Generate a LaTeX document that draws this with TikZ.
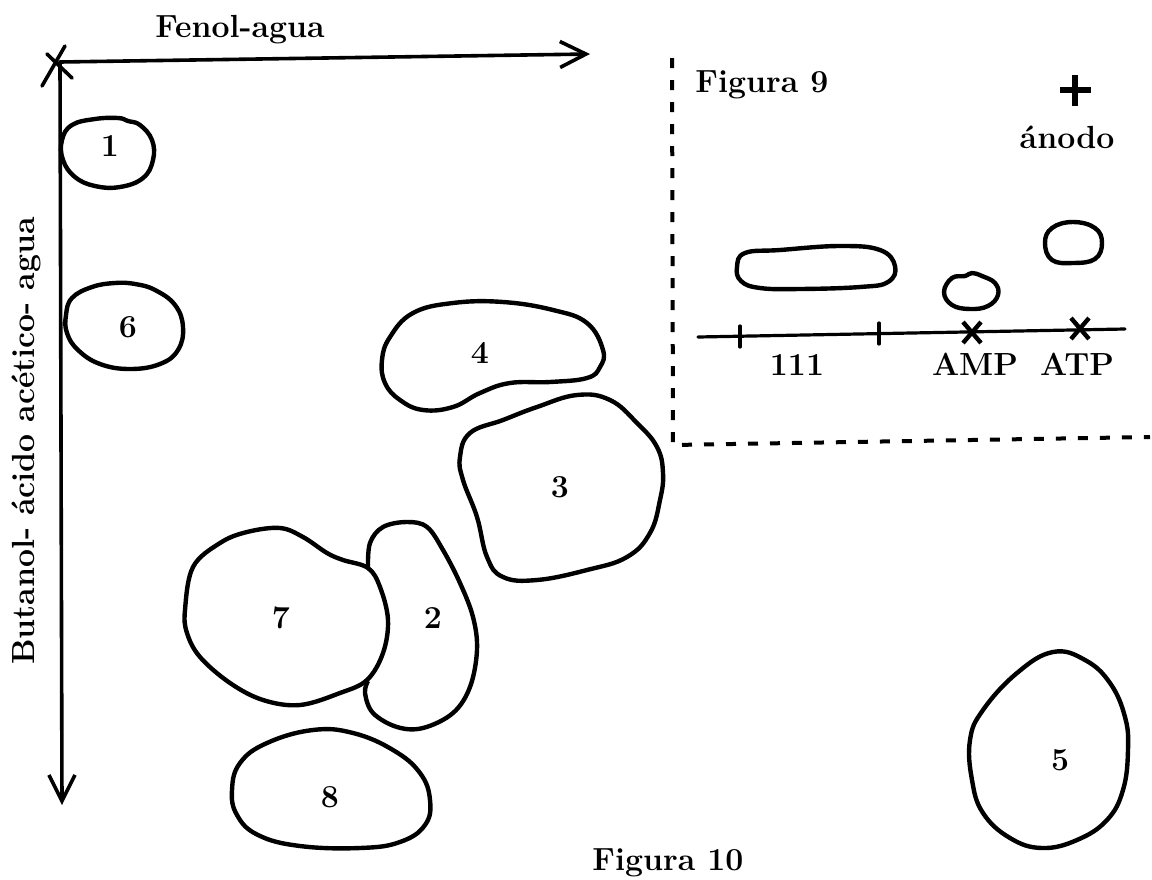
\documentclass[tikz,border=0pt]{standalone}
\usetikzlibrary{arrows.meta}
\begin{document}
\begin{tikzpicture}[x=0.5pt,y=-0.5pt,
  lbl/.style={font=\fontsize{16}{19}\selectfont\bfseries, inner sep=0pt},
  blob/.style={line width=2.2pt, line join=round},
  axis/.style={line width=1.8pt, line cap=round},
  inl/.style={line width=1.6pt, line cap=round},
  dash box/.style={line width=2pt, dash pattern=on 5pt off 6pt},
  barb/.style={-{Straight Barb[length=13pt,width=13pt,line width=1.8pt]}}]
\useasboundingbox (0,0) rectangle (1152,879);

% axes
\coordinate (o) at (60,62);
\coordinate (xe) at (590,54);
\coordinate (ye) at (62,805);
\draw[axis,barb] (o) -- (xe);
\draw[axis,barb] (o) -- (ye);
\draw[axis] (42,86) -- (65,46);
\draw[axis] (47,54) -- (72,78);
\node[lbl,anchor=base] (fenol) at (240,37) {Fenol-agua};
\node[lbl,rotate=90] (buta) at (26,441) {Butanol- ácido acético- agua};

% blobs
\draw[blob] plot[smooth cycle,tension=0.7] coordinates {(62,140) (72,125) (95,119) (118,118) (128,121) (140,125) (152,140) (153,160) (143,178) (120,187) (95,186) (75,177) (63,160)};
\node[lbl] (n1) at (110,146) {1};

\draw[blob] plot[smooth cycle,tension=0.7] coordinates {(66,315) (72,298) (92,287) (115,283) (135,284) (155,290) (175,305) (183,327) (178,350) (160,364) (130,369) (100,364) (78,350) (67,333)};
\node[lbl] (n6) at (128,327) {6};

\draw[blob] plot[smooth cycle,tension=0.7] coordinates {(382,360) (390,337) (413,313) (453,303) (503,302) (553,310) (587,323) (603,350) (600,367) (587,378) (550,382) (510,383) (480,393) (453,407) (423,410) (400,400) (385,383)};
\node[lbl] (n4) at (480,353) {4};

\draw[blob] plot[smooth cycle,tension=0.7] coordinates {(460,457) (470,433) (503,420) (537,407) (577,395) (610,400) (637,423) (657,447) (663,473) (660,500) (650,533) (627,557) (587,570) (537,580) (503,577) (487,557) (477,517) (463,480)};
\node[lbl] (n3) at (560,487) {3};

\draw[blob] plot[smooth cycle,tension=0.6] coordinates {(185,610) (193,567) (220,543) (247,532) (280,528) (303,537) (327,553) (343,560) (368,568) (380,587) (388,620) (383,653) (367,680) (340,693) (300,705) (263,700) (230,683) (200,657) (187,633)};
\node[lbl] (n7) at (281,618) {7};

\draw[blob] plot[smooth,tension=0.6] coordinates {(368,568) (370,543) (383,527) (407,522) (427,527) (443,550) (460,583) (473,617) (477,650) (470,687) (453,713) (423,728) (397,727) (373,713) (365,693) (368,681)};
\node[lbl] (n2) at (433,618) {2};

\draw[blob] plot[smooth cycle,tension=0.7] coordinates {(232,790) (240,763) (267,743) (313,730) (353,733) (393,750) (420,773) (430,800) (425,825) (400,842) (360,848) (300,846) (258,835) (237,815)};
\node[lbl] (n8) at (330,797) {8};

\draw[blob] plot[smooth cycle,tension=0.7] coordinates {(1053,652) (1017,673) (983,710) (970,740) (972,780) (983,813) (1010,838) (1042,848) (1077,840) (1107,820) (1123,790) (1128,750) (1125,717) (1110,683) (1085,660)};
\node[lbl] (n5) at (1060,760) {5};

\node[lbl,anchor=base west] (fig10) at (592,870) {Figura 10};

% inset (Figura 9)
\coordinate (dtop) at (672,58);
\coordinate (dcorner) at (673,445);
\coordinate (dright) at (1150,437);
\draw[dash box] (dtop) -- (dcorner) -- (dright);
\node[lbl,anchor=base west] (fig9) at (695,92) {Figura 9};
\draw[line width=3pt] (1060,90) -- (1091,90) (1075,75) -- (1075,106);
\node[lbl,anchor=base] (anodo) at (1067,148) {ánodo};

\draw[blob] plot[smooth cycle,tension=0.7] coordinates {(737,267) (745,253) (780,250) (840,246) (880,250) (895,266) (888,282) (860,287) (800,289) (760,288) (741,281)};
\draw[blob] plot[smooth cycle,tension=0.7] coordinates {(944,292) (952,278) (965,276) (972,273) (982,276) (995,283) (998,295) (988,306) (970,309) (952,305)};
\draw[blob] plot[smooth cycle,tension=0.7] coordinates {(1045,243) (1052,228) (1073,222) (1095,228) (1102,243) (1095,259) (1073,263) (1052,260)};

\coordinate (bl) at (698,337);
\coordinate (br) at (1125,329);
\draw[inl] (bl) -- (br);
\draw[inl] (740,326) -- (740,347);
\draw[inl] (879,323) -- (879,344);
\draw[line width=2.2pt] (963,322) -- (981,343) (981,322) -- (963,343);
\draw[line width=2.2pt] (1071,318) -- (1089,339) (1089,318) -- (1071,339);
\node[lbl,anchor=base] (l111) at (797,375) {111};
\node[lbl,anchor=base] (amp) at (975,375) {AMP};
\node[lbl,anchor=base] (atp) at (1077,375) {ATP};
\end{tikzpicture}
\end{document}
